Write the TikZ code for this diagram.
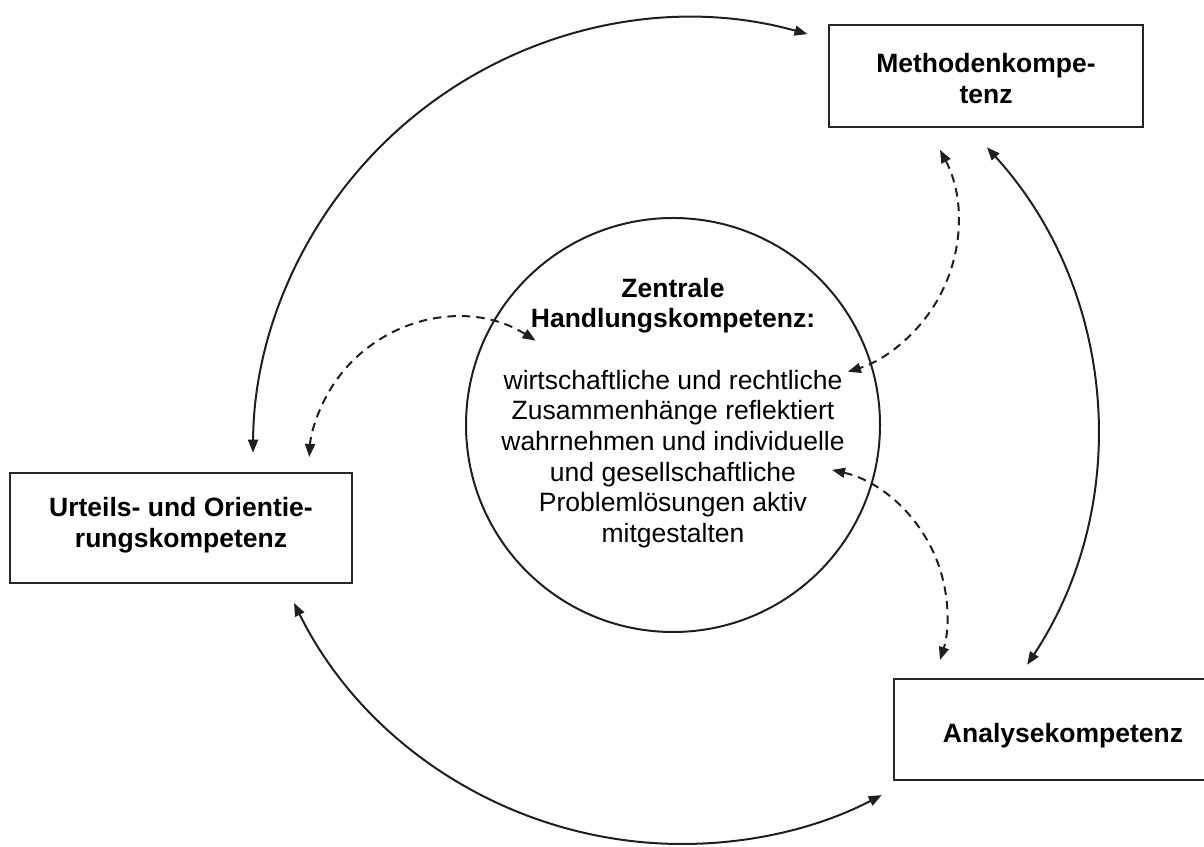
\documentclass[tikz,border=0pt]{standalone}
\usepackage{fontspec}
\setmainfont{Liberation Sans}
\usetikzlibrary{arrows.meta}
\tikzset{
  box/.style={draw=black!85, line width=2pt, align=center, inner sep=0pt,
    font=\bfseries\fontsize{26.5pt}{31.5pt}\selectfont},
  conn/.style={line width=2pt, draw=black!88,
    {Triangle[length=13pt,width=10pt]}-{Triangle[length=13pt,width=10pt]}},
  dconn/.style={conn, dash pattern=on 8.5pt off 6pt},
  maintext/.style={align=center, inner sep=0pt, font=\fontsize{26.5pt}{30.7pt}\selectfont}
}
\begin{document}
\begin{tikzpicture}[x=1pt,y=1pt]
\useasboundingbox (0,0) rectangle (1204,846);
\clip (0,0) rectangle (1204,846);
% boxes
\node[box, minimum width=314pt, minimum height=102pt, text height=56pt, text depth=0pt] (meth) at (986,770) {Methodenkompe-\\tenz};
\node[box, minimum width=342pt, minimum height=110pt, text height=45pt, text depth=5.6pt] (urt) at (181,318) {Urteils- und Orientie-\\rungskompetenz};
\node[box, minimum width=338pt, minimum height=101pt, text height=30pt, text depth=5pt] (ana) at (1063,116.5) {Analysekompetenz};
% central circle
\node[circle, draw=black!88, line width=2pt, minimum size=414pt, inner sep=0pt] (circ) at (673,421) {};
\node[maintext] (ctext) at (673,433) {\textbf{Zentrale}\\\textbf{Handlungskompetenz:}\\[30.7pt]wirtschaftliche und rechtliche\\Zusammenh\"ange reflektiert\\wahrnehmen und individuelle\\und gesellschaftliche\\Probleml\"osungen aktiv\\mitgestalten};
% arrow end points
\coordinate (mL) at (807.5,811.9);
\coordinate (mB) at (986.9,698.7);
\coordinate (mD) at (940,696.1);
\coordinate (uT) at (253,393.3);
\coordinate (uD) at (309.3,389);
\coordinate (uB) at (294,243);
\coordinate (aT) at (1027.1,181.2);
\coordinate (aD) at (940,186);
\coordinate (aL) at (881.7,50.9);
\coordinate (cL) at (535.6,505.4);
\coordinate (cR) at (847.9,474.2);
\coordinate (cB) at (832,376.1);
% solid arcs
\draw[conn] (mL) arc[start angle=74.4, end angle=179.7, radius=437pt];
\draw[conn] (mB) arc[start angle=42.3, end angle=-33.4, radius=423pt];
\draw[conn] (uB) arc[start angle=206.3, end angle=297.5, radius=432.7pt];
% dashed arcs
\draw[dconn] (cL) arc[start angle=57.9, end angle=176.5, radius=148pt];
\draw[dconn] (mD) arc[start angle=27.8, end angle=-72.9, radius=156pt];
\draw[dconn] (cB) arc[start angle=77, end angle=-17.8, radius=148.5pt];
\end{tikzpicture}
\end{document}
